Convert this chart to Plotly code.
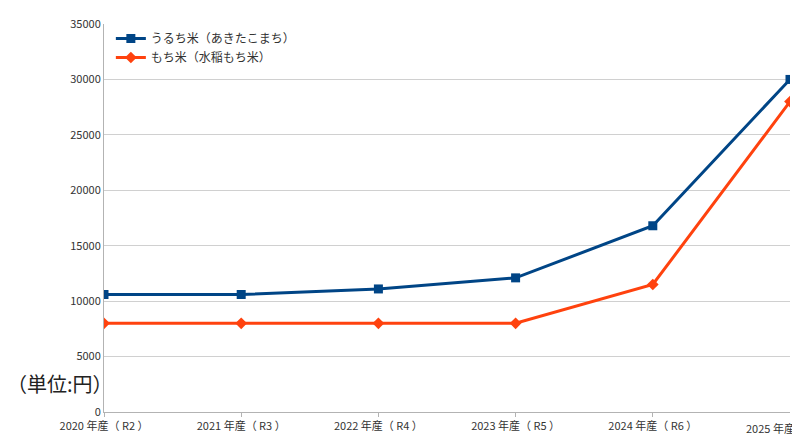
import plotly.graph_objects as go

categories = ["2020 年産（ R2 ）", "2021 年産（ R3 ）", "2022 年産（ R4 ）", "2023 年産（ R5 ）", "2024 年産（ R6 ）", "2025 年産（ R7 ）"]
uruchi = [10600, 10600, 11100, 12100, 16800, 30000]
mochi = [8000, 8000, 8000, 8000, 11500, 28000]
yticks = [0, 5000, 10000, 15000, 20000, 25000, 30000, 35000]

xs = list(range(len(categories)))
fig = go.Figure()
fig.add_trace(go.Scatter(x=xs, y=uruchi, name="うるち米（あきたこまち）", mode="lines+markers",
                         line=dict(color="#004586", width=3), marker=dict(symbol="square", size=9)))
fig.add_trace(go.Scatter(x=xs, y=mochi, name="もち米（水稲もち米）", mode="lines+markers",
                         line=dict(color="#ff420e", width=3), marker=dict(symbol="diamond", size=9)))
fig.update_layout(
    width=800, height=444, margin=dict(l=96, r=18, t=16, b=40, autoexpand=False),
    plot_bgcolor="white", paper_bgcolor="white",
    font=dict(family="Noto Sans CJK JP", size=11, color="#333"),
    legend=dict(x=0.01, y=1.0, xanchor="left", yanchor="top", bgcolor="rgba(0,0,0,0)", font=dict(size=12)),
    showlegend=True,
)
fig.update_xaxes(tickvals=xs[:-1], ticktext=categories[:-1], range=[0, 5], showgrid=False, automargin=False,
                 showline=True, linecolor="#b3b3b3", ticks="outside", tickcolor="#b3b3b3", ticklen=4)
fig.update_yaxes(tickvals=yticks, tickformat="d", range=[0, 35000], showgrid=True, gridcolor="#d0d0d0",
                 automargin=False, showline=True, linecolor="#b3b3b3", zeroline=False)
fig.add_annotation(text=categories[-1], xref="x", yref="paper", x=xs[-1], y=0, yshift=-6,
                   xanchor="center", yanchor="top", showarrow=False, font=dict(size=11, color="#333"))
fig.add_annotation(text="（単位:円）", xref="paper", yref="paper", x=-0.145, y=0.03,
                   xanchor="left", yanchor="bottom", showarrow=False, font=dict(size=20, color="#222"))
fig.write_html("out.html")
